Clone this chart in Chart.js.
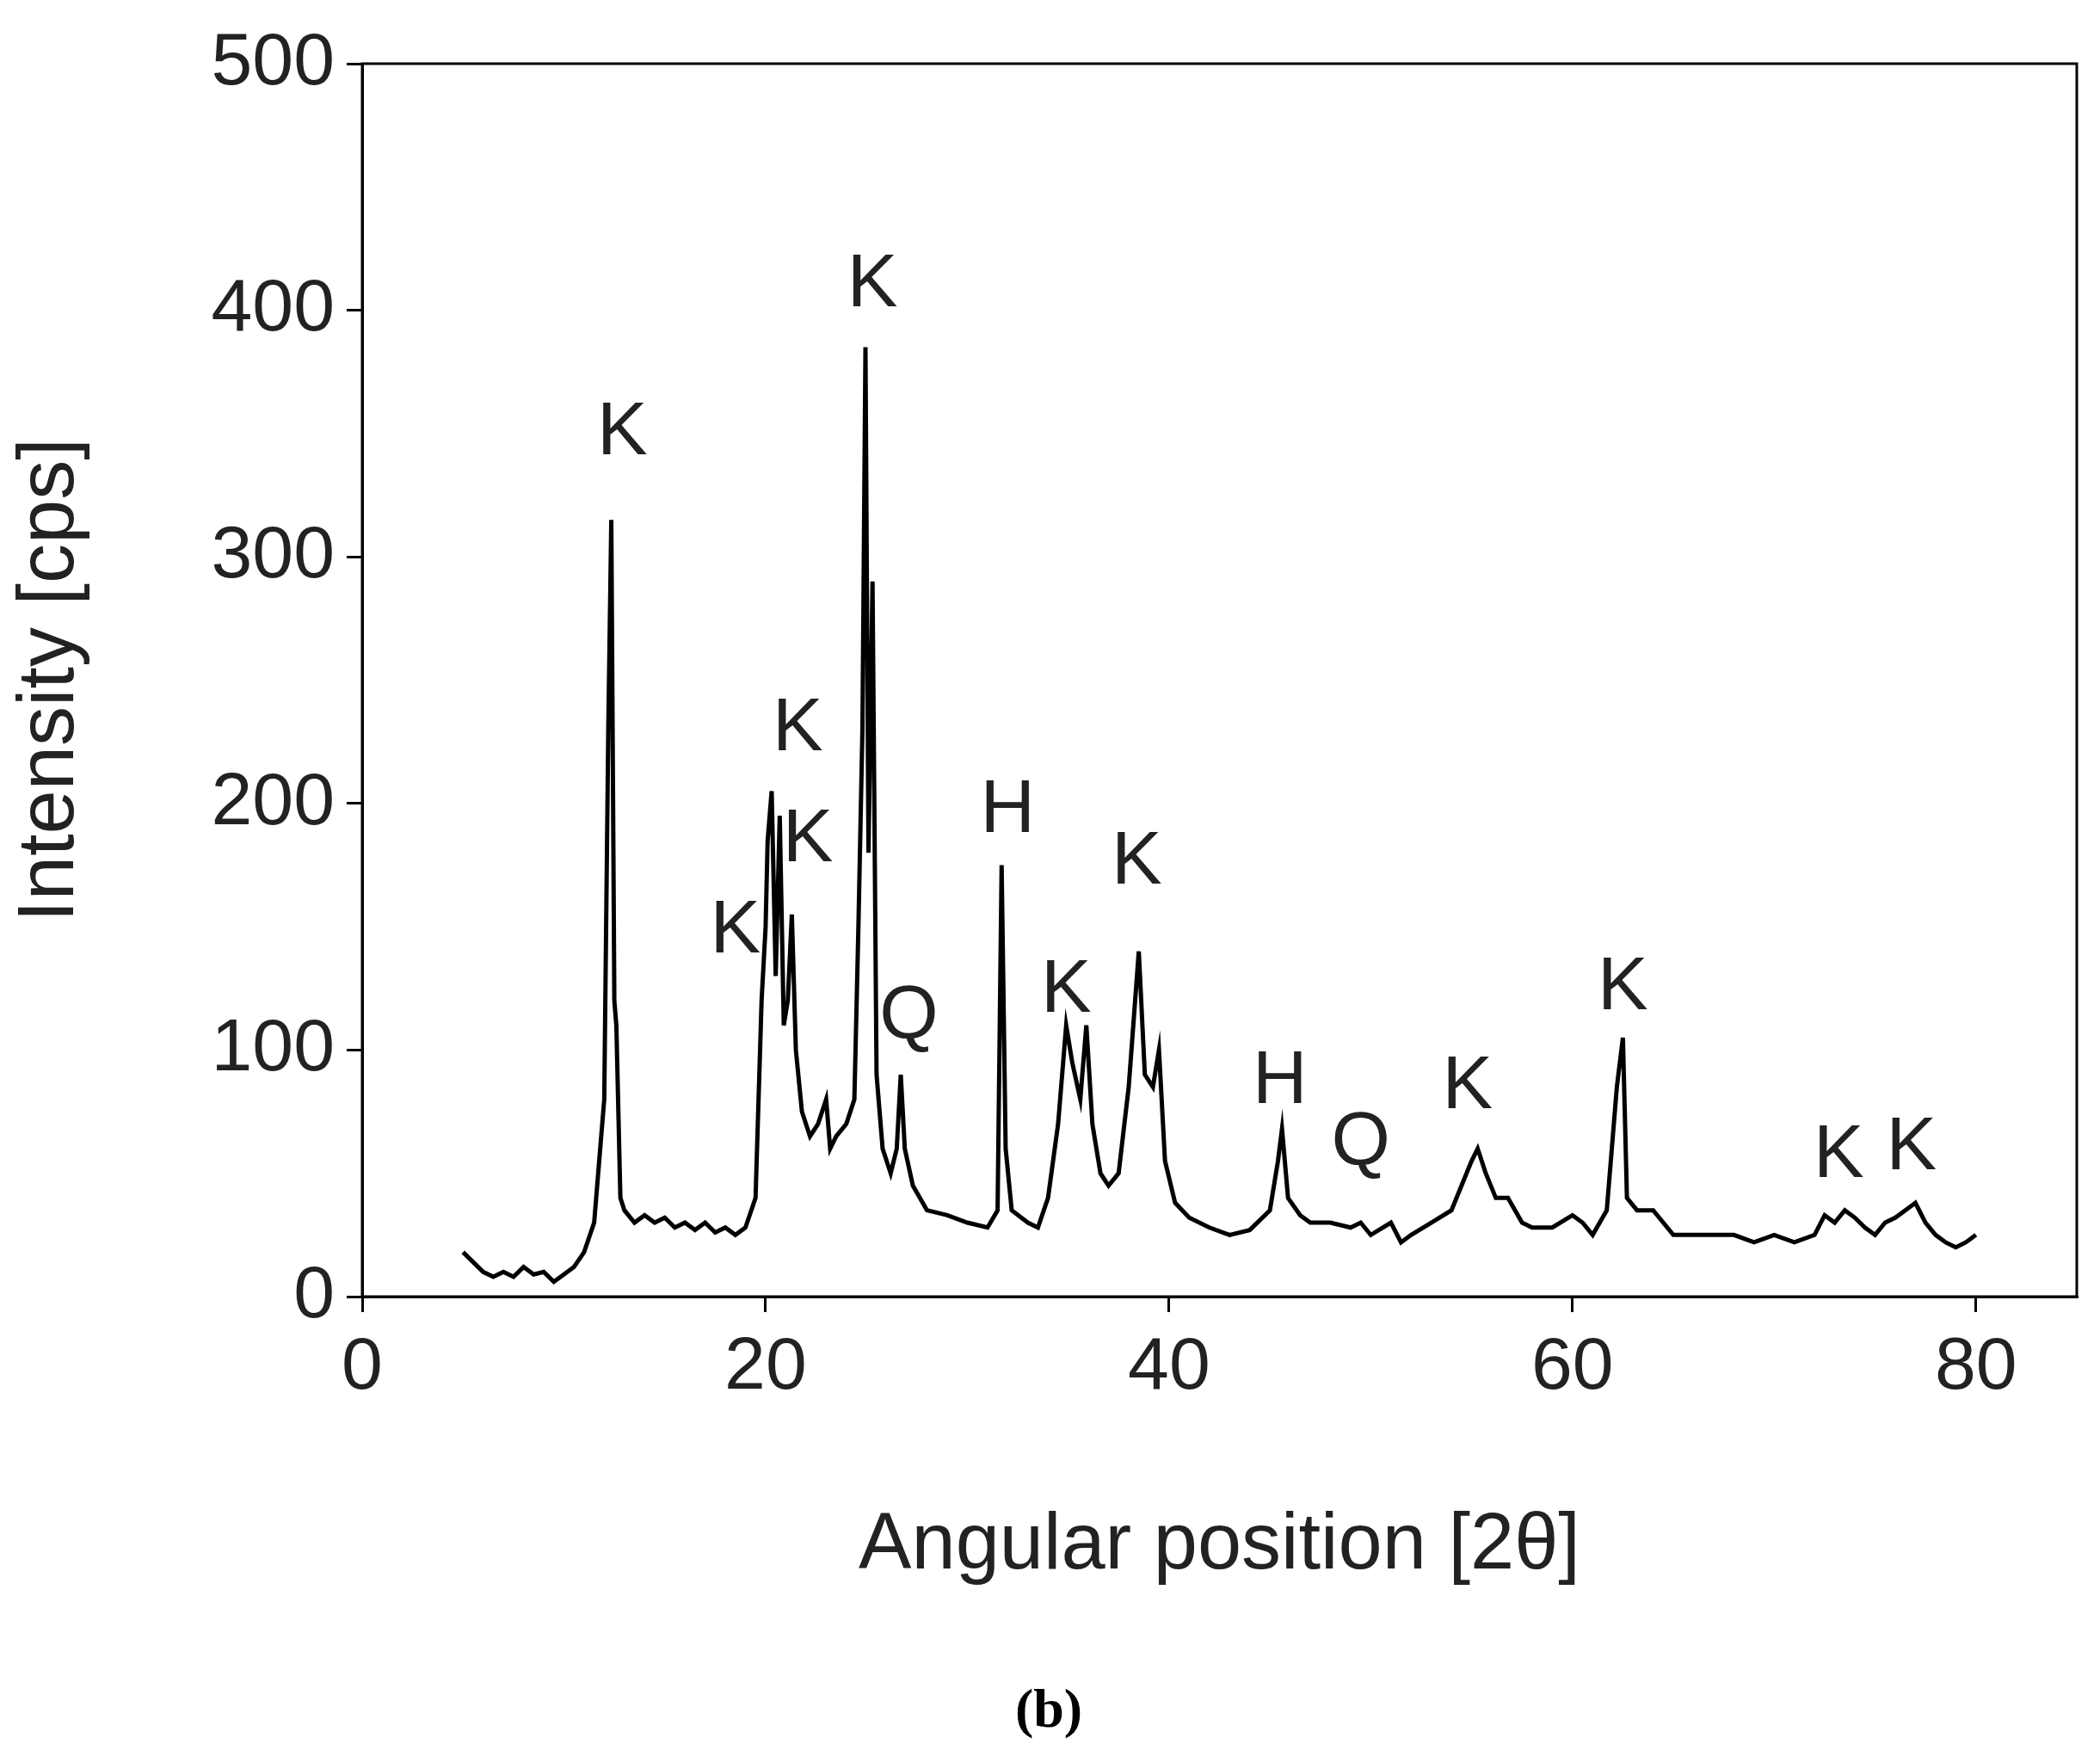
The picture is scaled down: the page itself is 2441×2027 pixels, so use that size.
<!DOCTYPE html>
<html><head><meta charset="utf-8">
<script src="https://cdn.jsdelivr.net/npm/chart.js@4/dist/chart.umd.min.js"></script>
<style>html,body{margin:0;padding:0;background:#fff}#w{width:2441px;height:2027px}</style>
</head><body><div id="w"><canvas id="c"></canvas></div>
<script>
const angles=[5,5.5,6,6.5,7,7.5,8,8.5,9,9.5,10,10.5,11,11.5,11.8,12.0,12.2,12.35,12.5,12.6,12.8,13,13.5,14,14.5,15,15.5,16,16.5,17,17.5,18,18.5,19,19.5,19.8,20.0,20.1,20.3,20.5,20.7,20.9,21.1,21.3,21.5,21.8,22.2,22.6,23.0,23.2,23.5,24,24.4,24.6,24.8,24.95,25.1,25.3,25.5,25.8,26.2,26.5,26.7,26.9,27.3,28,29,30,31,31.5,31.7,31.9,32.2,33,33.5,34,34.5,34.9,35.2,35.6,35.9,36.2,36.6,37,37.5,38,38.5,38.8,39.2,39.5,39.8,40.3,41,42,43,44,45,45.4,45.6,45.9,46.5,47,48,49,49.5,50,51,51.5,52,53,54,54.5,55,55.3,55.7,56.2,56.8,57.5,58,59,60,60.5,61,61.7,62.2,62.5,62.7,63.2,64,65,66,67,68,69,70,71,72,72.5,73,73.5,74,74.5,75,75.5,76,76.5,77,77.5,78,78.5,79,79.5,80];
const intensity=[18,14,10,8,10,8,12,9,10,6,9,12,18,30,60,80,230,315,120,110,40,35,30,33,30,32,28,30,27,30,26,28,25,28,40,120,150,185,205,130,195,110,120,155,100,75,65,70,80,60,65,70,80,150,230,385,180,290,90,60,50,60,90,60,45,35,33,30,28,35,175,60,35,30,28,40,70,110,95,80,110,70,50,45,50,85,140,90,85,100,55,38,32,28,25,27,35,55,68,40,33,30,30,28,30,25,30,22,25,30,35,45,55,60,50,40,40,30,28,28,33,30,25,35,85,105,40,35,35,25,25,25,25,22,25,22,25,33,30,35,32,28,25,30,32,35,38,30,25,22,20,22,25];
const xTicks=[0,20,40,60,80];
const yTicks=[0,100,200,300,400,500];
const peakLabels=['K','K','K','K','K','H','Q','K','K','H','Q','K','K','K','K'];
const peakX=[12.9,25.3,21.6,22.1,18.5,32,27.1,38.4,34.9,45.5,49.5,54.8,62.5,73.2,76.8];
const peakY=[350,410,230,185,148,197,113,176,124,87,62,85,125,57,60];

const F='"Liberation Sans", Arial, sans-serif';
const deco={id:'deco',afterDraw(ch){
  const c=ch.ctx,a=ch.chartArea,xs=ch.scales.x,ys=ch.scales.y;
  c.save();c.strokeStyle='#000';c.lineWidth=3;c.strokeRect(a.left,a.top,a.right-a.left,a.bottom-a.top);
  c.fillStyle='#222';c.font='88px '+F;c.textAlign='center';c.textBaseline='middle';
  peakLabels.forEach((t,i)=>c.fillText(t,xs.getPixelForValue(peakX[i]),ys.getPixelForValue(peakY[i])));
  c.fillStyle='#000';c.font='bold 64px "Liberation Serif", serif';c.fillText('(b)',1219,1990);
  c.restore();}};
new Chart(document.getElementById('c'),{type:'line',
 data:{datasets:[{data:angles.map((x,i)=>({x,y:intensity[i]})),borderColor:'#000',borderWidth:5,pointRadius:0,tension:0}]},
 options:{responsive:true,maintainAspectRatio:false,animation:false,
  layout:{padding:{left:0,top:74,right:27,bottom:170}},
  plugins:{legend:{display:false},tooltip:{enabled:false}},
  scales:{
   x:{type:'linear',min:0,max:85,afterBuildTicks(s){s.ticks=xTicks.map(v=>({value:v}));},
     afterFit(s){s.height=350;},
     grid:{drawOnChartArea:false,tickLength:18,color:'#000',lineWidth:3},border:{color:'#000',width:3},
     ticks:{color:'#222',font:{family:F,size:86},padding:14,maxRotation:0},
     title:{display:true,text:'Angular position [2θ]',color:'#222',font:{family:F,size:92},padding:{top:40}}},
   y:{min:0,max:500,afterBuildTicks(s){s.ticks=yTicks.map(v=>({value:v}));},
     afterFit(s){s.width=421;},
     grid:{drawOnChartArea:false,tickLength:18,color:'#000',lineWidth:3},border:{color:'#000',width:3},
     ticks:{color:'#222',font:{family:F,size:86},padding:14},
     title:{display:true,text:'Intensity [cps]',color:'#222',font:{family:F,size:92},padding:{bottom:20}}}}},
 plugins:[deco]});
</script></body></html>
